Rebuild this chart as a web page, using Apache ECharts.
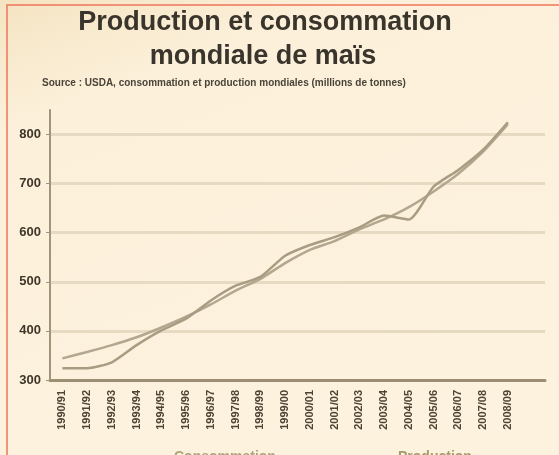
<!DOCTYPE html>
<html>
<head>
<meta charset="utf-8">
<script src="https://cdn.jsdelivr.net/npm/echarts@6/dist/echarts.min.js"></script>
<style>
html,body{margin:0;padding:0;background:#FDF1DC;}
#c{width:559px;height:455px;}
</style>
</head>
<body>
<div id="c"></div>
<script>
const categories = ['1990/91','1991/92','1992/93','1993/94','1994/95','1995/96','1996/97','1997/98','1998/99','1999/00','2000/01','2001/02','2002/03','2003/04','2004/05','2005/06','2006/07','2007/08','2008/09',''];
const consommation = [344,357,371,387,407,429,454,482,506,538,565,583,607,627,652,684,720,765,821,null];
const production   = [324,324,336,371,401,425,462,492,510,553,575,591,611,635,627,694,728,769,825,null];
const yMin = 300, yMax = 850, yStep = 100;
const titleLines = ['Production et consommation', 'mondiale de maïs'];
const sourceText = 'Source : USDA, consommation et production mondiales (millions de tonnes)';
const legendNames = ['Consommation', 'Production'];

const chart = echarts.init(document.getElementById('c'), null, {renderer:'canvas'});
chart.setOption({
  backgroundColor: {
    type:'linear', x:0, y:0, x2:0.3, y2:1,
    colorStops:[{offset:0,color:'#F4E4C2'},{offset:0.25,color:'#FCF0DA'},{offset:1,color:'#FDF2DE'}]
  },
  animation:false,
  legend:[
    {data:[legendNames[0]], left:164, top:445, icon:'none', itemWidth:0, selectedMode:false,
     textStyle:{fontFamily:'Liberation Sans', fontSize:14, fontWeight:'bold', color:'#b0a47c'}},
    {data:[legendNames[1]], left:388, top:445, icon:'none', itemWidth:0, selectedMode:false,
     textStyle:{fontFamily:'Liberation Sans', fontSize:14, fontWeight:'bold', color:'#a89a6c'}}
  ],
  grid:{left:50, right:14, top:110, bottom:75, containLabel:false},
  xAxis:{
    type:'category', data:categories, boundaryGap:true,
    axisLine:{lineStyle:{color:'#9c8e72', width:3}},
    axisTick:{show:false},
    axisLabel:{rotate:90, interval:0, margin:10, fontFamily:'Liberation Sans', fontSize:11, fontWeight:'bold', color:'#4d4434'},
    splitLine:{show:false}
  },
  yAxis:{
    type:'value', min:yMin, max:yMax, interval:yStep,
    axisLine:{show:true, lineStyle:{color:'#a2947a', width:2}},
    axisTick:{show:true, length:4, lineStyle:{color:'#a2947a'}},
    axisLabel:{showMaxLabel:false, margin:9, fontFamily:'Liberation Sans', fontSize:13, fontWeight:'bold', color:'#3e3628'},
    splitLine:{show:true, showMaxLine:false, lineStyle:{color:'#E6DBC2', width:3}}
  },
  series:[
    {name:legendNames[0], type:'line', data:consommation, symbol:'none', smooth:0.2,
     lineStyle:{color:'#b3a78f', width:2.5}, itemStyle:{color:'#b3a78f'}},
    {name:legendNames[1], type:'line', data:production, symbol:'none', smooth:0.2,
     lineStyle:{color:'#a99c82', width:2.5}, itemStyle:{color:'#a99c82'}}
  ],
  graphic:[
    {type:'rect', shape:{x:7, y:5, width:600, height:600}, silent:true,
     style:{fill:'none', stroke:'#F0745A', lineWidth:1.5}},
    {type:'text', x:265, y:23, silent:true,
     style:{text:titleLines[0], textAlign:'center', textVerticalAlign:'middle',
            font:'bold 27px "Liberation Sans"', fill:'#3a352c'}},
    {type:'text', x:263, y:57, silent:true,
     style:{text:titleLines[1], textAlign:'center', textVerticalAlign:'middle',
            font:'bold 27px "Liberation Sans"', fill:'#3a352c'}},
    {type:'text', x:42, y:83, silent:true,
     style:{text:sourceText, textAlign:'left', textVerticalAlign:'middle',
            font:'bold 10px "Liberation Sans"', fill:'#4a4438'}}
  ]
});
</script>
</body>
</html>
